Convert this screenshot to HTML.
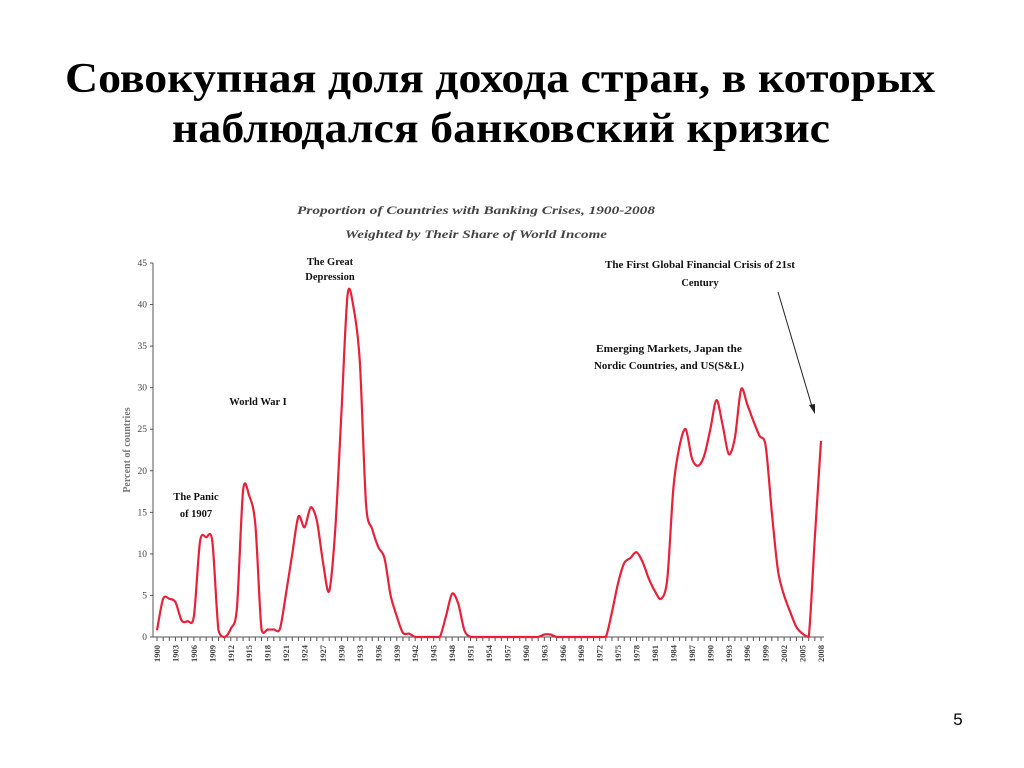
<!DOCTYPE html>
<html><head><meta charset="utf-8">
<style>
body{margin:0;background:#fff;width:1024px;height:768px;overflow:hidden;}
svg{display:block}
</style></head>
<body>
<svg id="chart" width="1024" height="768" xmlns="http://www.w3.org/2000/svg">
<text x="65" y="92" textLength="870" lengthAdjust="spacingAndGlyphs" font-family="Liberation Serif, serif" font-weight="bold" font-size="42">Совокупная доля дохода стран, в которых</text>
<text x="172" y="142" textLength="658" lengthAdjust="spacingAndGlyphs" font-family="Liberation Serif, serif" font-weight="bold" font-size="42">наблюдался банковский кризис</text>
<text x="297" y="214" textLength="358" lengthAdjust="spacingAndGlyphs" font-family="Liberation Serif, serif" font-style="italic" font-weight="bold" font-size="12" fill="#444">Proportion of Countries with Banking Crises, 1900-2008</text>
<text x="345" y="238" textLength="262" lengthAdjust="spacingAndGlyphs" font-family="Liberation Serif, serif" font-style="italic" font-weight="bold" font-size="12" fill="#444">Weighted by Their Share of World Income</text>
<text transform="translate(130,450) rotate(-90)" text-anchor="middle" font-family="Liberation Serif, serif" font-size="10" fill="#777" font-weight="bold">Percent of countries</text>
<g font-family="Liberation Serif, serif" font-weight="bold" font-size="10.5" fill="#111">
<text x="330" y="265" text-anchor="middle"><tspan x="330">The Great</tspan><tspan x="330" dy="15">Depression</tspan></text>
<text x="258" y="405" text-anchor="middle">World War I</text>
<text x="196" y="500" text-anchor="middle"><tspan x="196">The Panic</tspan><tspan x="196" dy="17">of 1907</tspan></text>
<text x="669" y="352" text-anchor="middle"><tspan x="669" textLength="146" lengthAdjust="spacingAndGlyphs">Emerging Markets, Japan the</tspan><tspan x="669" dy="17" textLength="150" lengthAdjust="spacingAndGlyphs">Nordic Countries, and US(S&amp;L)</tspan></text>
<text x="700" y="268" text-anchor="middle"><tspan x="700" textLength="190" lengthAdjust="spacingAndGlyphs">The First Global Financial Crisis of 21st</tspan><tspan x="700" dy="18">Century</tspan></text>
</g>
<line x1="778" y1="292" x2="813" y2="410" stroke="#222" stroke-width="1"/>
<polygon points="815,414 809,405 815,404" fill="#222"/>
<g id="axes"></g>
<path id="series" fill="none" stroke="#e8203a" stroke-width="2.2" stroke-linejoin="round"/>
<text x="958" y="725" text-anchor="middle" font-family="Liberation Sans, sans-serif" font-size="17">5</text>
</svg>
<script>
const years = [];
for (let y = 1900; y <= 2008; y++) years.push(y);
const values = [0.8,4.6,4.6,4.2,2,1.9,2.5,11.5,12,11.5,
0.8,0,1,3.5,17.6,17,13.5,0.9,0.9,0.9,
1,5.3,10,14.5,13.2,15.6,14,9,5.5,13,
27,41.2,39.5,33,16,13,10.8,9.5,5,2.5,
0.5,0.4,0,0,0,0,0,2.5,5.2,4,
0.8,0,0,0,0,0,0,0,0,0,
0,0,0,0.3,0.3,0,0,0,0,0,
0,0,0,0,3,6.5,8.9,9.5,10.2,9,
7,5.5,4.6,7,18,23,25,21.5,20.6,21.8,
25,28.5,25.5,22,24,29.8,28,26,24.2,23,
15,8,5,3,1.2,0.4,0,12,23.6];
const yTicks = [0,5,10,15,20,25,30,35,40,45];
const xLabelYears = [];
for (let y = 1900; y <= 2008; y += 3) xLabelYears.push(y);

const NS = "http://www.w3.org/2000/svg";
const X0 = 157, X1 = 821, Y0 = 637, Y1 = 263;
const xScale = yr => X0 + (yr - 1900) * (X1 - X0) / 108;
const yScale = v => Y0 - v * (Y0 - Y1) / 45;
const axes = document.getElementById('axes');
function mk(tag, attrs) {
  const e = document.createElementNS(NS, tag);
  for (const k in attrs) e.setAttribute(k, attrs[k]);
  axes.appendChild(e);
  return e;
}
let e = mk('line', {x1:153, y1:Y1, x2:153, y2:Y0, stroke:'#555', 'stroke-width':1});


e = mk('line', {x1:153, y1:Y0, x2:X1+3, y2:Y0, stroke:'#555', 'stroke-width':1});


yTicks.forEach(t => {
  const y = yScale(t);
  let l = mk('line', {x1:150, y1:y, x2:153, y2:y, stroke:'#555'});
  
  
  let tx = mk('text', {x:147, y:y+3, 'text-anchor':'end', 'font-family':'Liberation Serif, serif', 'font-size':'9.5', fill:'#444'});
  tx.textContent = t;
  
  
});
years.forEach(yr => {
  const x = xScale(yr);
  let l = mk('line', {x1:x, y1:Y0, x2:x, y2:Y0+4, stroke:'#555'});
  
  
});
xLabelYears.forEach(yr => {
  const x = xScale(yr);
  let tx = mk('text', {transform:`translate(${x+3},${Y0+8}) rotate(-90)`, 'text-anchor':'end', 'font-family':'Liberation Serif, serif', 'font-size':'8.5', 'font-weight':'bold', fill:'#444'});
  tx.textContent = yr;
  
  
});
const pts = years.map((yr, i) => [xScale(yr), yScale(values[i])]);
let d = `M${pts[0][0]},${pts[0][1]}`;
for (let i = 0; i < pts.length - 1; i++) {
  const p0 = pts[Math.max(0, i-1)], p1 = pts[i], p2 = pts[i+1], p3 = pts[Math.min(pts.length-1, i+2)];
  const t = 0.15;
  const c1x = p1[0] + (p2[0]-p0[0])*t, c1y = Math.min(Y0, p1[1] + (p2[1]-p0[1])*t);
  const c2x = p2[0] - (p3[0]-p1[0])*t, c2y = Math.min(Y0, p2[1] - (p3[1]-p1[1])*t);
  d += ` C${c1x},${c1y} ${c2x},${c2y} ${p2[0]},${p2[1]}`;
}
document.getElementById('series').setAttribute('d', d);
</script>
</body></html>
